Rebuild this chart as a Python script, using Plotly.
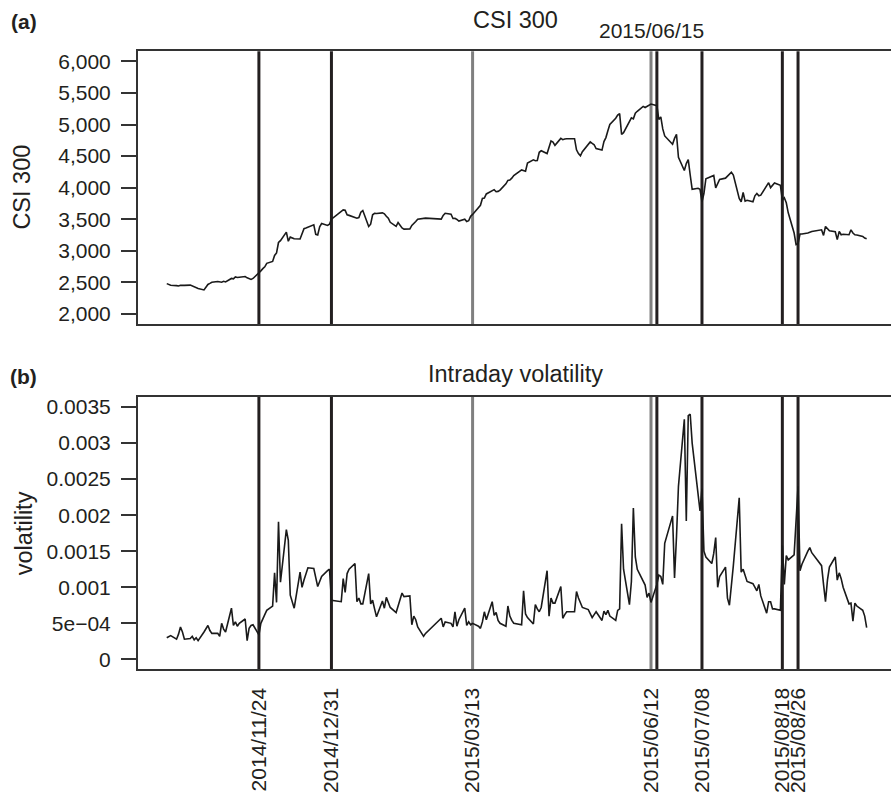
import pandas as pd
import plotly.graph_objects as go

W, H = 891, 793
FONT = "Liberation Sans, Arial, Helvetica, sans-serif"
INK = "#231f20"
GRAY = "#808080"

# ---- trading calendar (Shanghai/Shenzhen), 2014-10-08 .. 2015-09-30 ----
start_date = "2014-10-08"
end_date = "2015-09-30"
holidays = ["2015-01-01", "2015-01-02", "2015-02-18", "2015-02-19", "2015-02-20",
            "2015-02-23", "2015-02-24", "2015-04-06", "2015-05-01", "2015-06-22",
            "2015-09-03", "2015-09-04"]

# ---- CSI 300 close ----
csi300 = [
    # Oct 2014
    2478, 2470, 2452, 2446, 2440, 2452, 2445, 2450, 2455, 2440, 2428, 2410, 2400, 2378, 2420, 2465, 2482, 2500,
    # Nov 2014
    2512, 2508, 2500, 2515, 2505, 2560, 2555, 2585, 2575, 2580, 2590, 2570, 2560, 2545, 2560, 2640, 2680, 2715, 2745, 2800,
    # Dec 2014
    2830, 2925, 2965, 3130, 3160, 3295, 3150, 3215, 3200, 3190, 3185, 3280, 3350, 3360, 3370, 3410, 3260, 3250, 3380, 3430, 3400, 3420, 3500,
    # Jan 2015
    3630, 3646, 3640, 3570, 3560, 3520, 3515, 3525, 3610, 3636, 3385, 3420, 3570, 3593, 3590, 3600, 3585, 3545, 3515, 3450,
    # Feb 2015
    3385, 3447, 3400, 3360, 3342, 3345, 3400, 3440, 3463, 3500, 3510, 3516, 3500, 3560, 3593,
    # Mar 2015
    3578, 3510, 3512, 3495, 3470, 3500, 3463, 3475, 3545, 3575, 3671, 3720, 3828, 3835, 3900, 3958, 3968, 3935, 3940, 3960, 4060, 4114,
    # Apr 2015
    4120, 4150, 4190, 4280, 4271, 4260, 4390, 4440, 4427, 4430, 4560, 4584, 4540, 4640, 4740, 4720, 4670, 4780, 4760, 4770, 4775,
    # May 2015
    4775, 4600, 4540, 4505, 4570, 4690, 4725, 4700, 4680, 4620, 4595, 4730, 4793, 4900, 5002, 5100, 5150, 5173, 4845, 4870,
    # Jun 2015
    5060, 5106, 5090, 5180, 5210, 5288, 5270, 5290, 5310, 5325, 5300, 5080, 5120, 4930, 4819, 4688, 4780, 4845, 4480, 4271, 4380,
    # Jul 2015
    4443, 4200, 3974, 3990, 3974, 3776, 3906, 4141, 4180, 4193, 3995, 4060, 4130, 4150, 4182, 4200, 4245, 4200, 3830, 3776, 3922, 3786, 3800,
    # Aug 2015
    3776, 3870, 3906, 3870, 3880, 4040, 4078, 4000, 4036, 4073, 4036, 3802, 3839, 3760, 3600, 3280, 3096, 3110, 3264, 3264, 3280,
    # Sep 2015
    3290, 3305, 3331, 3243, 3384, 3350, 3316, 3300, 3175, 3305, 3253, 3260, 3253, 3331, 3280, 3253, 3250, 3227, 3200, 3190,
]

# ---- intraday volatility ----
volatility = [
    # Oct 2014
    0.00030, 0.00031, 0.00033, 0.00028, 0.00035, 0.00045, 0.00038, 0.00028, 0.00029, 0.00032, 0.00027, 0.00030, 0.00026, 0.00038, 0.00042, 0.00047, 0.00040, 0.00036,
    # Nov 2014
    0.00036, 0.00032, 0.00050, 0.00042, 0.00038, 0.00071, 0.00047, 0.00052, 0.00046, 0.00050, 0.00056, 0.00026, 0.00043, 0.00047, 0.00048, 0.00034, 0.00050, 0.00055, 0.00062, 0.00068,
    # Dec 2014
    0.00074, 0.00120, 0.00079, 0.00191, 0.00107, 0.00180, 0.00165, 0.00089, 0.00080, 0.00071, 0.00121, 0.00100, 0.00110, 0.00120, 0.00127, 0.00126, 0.00112, 0.00101, 0.00108, 0.00115, 0.00123, 0.00125, 0.00082,
    # Jan 2015
    0.00080, 0.00112, 0.00093, 0.00119, 0.00125, 0.00133, 0.00080, 0.00085, 0.00077, 0.00077, 0.00119, 0.00077, 0.00082, 0.00070, 0.00059, 0.00081, 0.00071, 0.00086, 0.00080, 0.00072,
    # Feb 2015
    0.00065, 0.00075, 0.00085, 0.00092, 0.00087, 0.00088, 0.00048, 0.00060, 0.00055, 0.00045, 0.00032, 0.00036, 0.00057, 0.00045, 0.00052,
    # Mar 2015
    0.00050, 0.00045, 0.00066, 0.00046, 0.00055, 0.00071, 0.00047, 0.00052, 0.00048, 0.00050, 0.00046, 0.00043, 0.00052, 0.00066, 0.00055, 0.00080, 0.00061, 0.00065, 0.00054, 0.00050, 0.00046, 0.00074,
    # Apr 2015
    0.00060, 0.00054, 0.00050, 0.00048, 0.00095, 0.00063, 0.00058, 0.00049, 0.00076, 0.00070, 0.00066, 0.00072, 0.00123, 0.00060, 0.00085, 0.00078, 0.00078, 0.00101, 0.00057, 0.00062, 0.00066,
    # May 2015
    0.00066, 0.00094, 0.00085, 0.00078, 0.00072, 0.00069, 0.00064, 0.00058, 0.00062, 0.00066, 0.00054, 0.00067, 0.00062, 0.00068, 0.00060, 0.00054, 0.00068, 0.00070, 0.00188, 0.00125,
    # Jun 2015
    0.00076, 0.00108, 0.00210, 0.00142, 0.00125, 0.00110, 0.00103, 0.00086, 0.00092, 0.00079, 0.00104, 0.00117, 0.00115, 0.00104, 0.00161, 0.00199, 0.00113, 0.00170, 0.00240, 0.00333, 0.00192,
    # Jul 2015
    0.00338, 0.00340, 0.00300, 0.00230, 0.00206, 0.00237, 0.00150, 0.00142, 0.00133, 0.00147, 0.00169, 0.00100, 0.00115, 0.00128, 0.00085, 0.00075, 0.00100, 0.00130, 0.00224, 0.00121, 0.00125, 0.00115, 0.00108,
    # Aug 2015
    0.00105, 0.00100, 0.00095, 0.00104, 0.00088, 0.00064, 0.00080, 0.00080, 0.00070, 0.00070, 0.00068, 0.00158, 0.00104, 0.00144, 0.00138, 0.00145, 0.00200, 0.00240, 0.00123, 0.00132, 0.00150,
    # Sep 2015
    0.00155, 0.00148, 0.00130, 0.00104, 0.00080, 0.00110, 0.00128, 0.00142, 0.00110, 0.00120, 0.00112, 0.00100, 0.00077, 0.00078, 0.00053, 0.00078, 0.00074, 0.00068, 0.00060, 0.00044,
]

# ---- event dates ----
black_dates = ["2014-11-24", "2014-12-31", "2015-06-15", "2015-07-08", "2015-08-18", "2015-08-26"]
gray_dates = ["2015-03-13", "2015-06-12"]
bottom_tick_dates = ["2014-11-24", "2014-12-31", "2015-03-13", "2015-06-12",
                     "2015-07-08", "2015-08-18", "2015-08-26"]
top_label_date = "2015-06-15"

# y-axis ticks
csi_ticks = [2000, 2500, 3000, 3500, 4000, 4500, 5000, 5500, 6000]
vol_ticks = [0, 0.0005, 0.001, 0.0015, 0.002, 0.0025, 0.003, 0.0035]
vol_ticktext = ["0", "5e\u221204", "0.001", "0.0015", "0.002", "0.0025", "0.003", "0.0035"]

dates = pd.bdate_range(start_date, end_date)
dates = dates[~dates.isin(pd.to_datetime(holidays))]
assert len(dates) == len(csi300) == len(volatility), (len(dates), len(csi300), len(volatility))


def px(x):
    return x / W


def py(y):
    return 1 - y / H


XRANGE = ["2014-09-23 08:00", "2015-10-12 10:00"]
XDOM = [px(138), 1.0]
YDOM_A = [py(327), py(51)]
YDOM_B = [py(677), py(401)]

fig = go.Figure()
fig.add_trace(go.Scatter(x=dates, y=csi300, mode="lines", xaxis="x", yaxis="y",
                         line=dict(color="#1a1a1a", width=1.6), showlegend=False,
                         hoverinfo="skip"))
fig.add_trace(go.Scatter(x=dates, y=volatility, mode="lines", xaxis="x2", yaxis="y2",
                         line=dict(color="#1a1a1a", width=1.6), showlegend=False,
                         hoverinfo="skip"))

shapes = []
for yref in ["y domain", "y2 domain"]:
    xref = "x" if yref == "y domain" else "x2"
    for d in gray_dates:
        shapes.append(dict(type="line", xref=xref, yref=yref, x0=d, x1=d, y0=0, y1=1,
                           line=dict(color=GRAY, width=3), layer="below"))
    for d in black_dates:
        shapes.append(dict(type="line", xref=xref, yref=yref, x0=d, x1=d, y0=0, y1=1,
                           line=dict(color=INK, width=3), layer="below"))

axis_common = dict(showgrid=False, zeroline=False, showline=True, linecolor="#333333",
                   linewidth=2)
tickfont = dict(family=FONT, size=21, color=INK)

fig.update_layout(
    width=W, height=H,
    margin=dict(l=0, r=0, t=0, b=0),
    paper_bgcolor="white", plot_bgcolor="white",
    shapes=shapes,
    xaxis=dict(domain=XDOM, anchor="y", type="date", range=XRANGE, mirror=True,
               showticklabels=False, ticks="", **axis_common),
    xaxis2=dict(domain=XDOM, anchor="y2", type="date", range=XRANGE, mirror=True,
                tickmode="array", tickvals=bottom_tick_dates,
                ticktext=[d.replace("-", "/") for d in bottom_tick_dates],
                tickangle=-90, ticks="", ticklabelstandoff=8, tickfont=tickfont,
                **axis_common),
    yaxis=dict(domain=YDOM_A, anchor="x", range=[1840, 6160], tickmode="array",
               tickvals=csi_ticks, tickformat=",d", ticks="outside", ticklen=15,
               tickwidth=2, tickcolor="#333333", tickfont=tickfont,
               ticklabelstandoff=6, **axis_common),
    yaxis2=dict(domain=YDOM_B, anchor="x2", range=[-0.00014, 0.00364], tickmode="array",
                tickvals=vol_ticks, ticktext=vol_ticktext, ticks="outside", ticklen=15,
                tickwidth=2, tickcolor="#333333", tickfont=tickfont,
                ticklabelstandoff=6, **axis_common),
)

ann = []
ann.append(dict(text="<b>(a)</b>", x=px(9), y=py(21), xref="paper", yref="paper",
                xanchor="left", yanchor="middle", showarrow=False,
                font=dict(family=FONT, size=21, color=INK)))
ann.append(dict(text="<b>(b)</b>", x=px(8), y=py(380), xref="paper", yref="paper",
                xanchor="left", yanchor="middle", showarrow=False,
                font=dict(family=FONT, size=21, color=INK)))
ann.append(dict(text="CSI 300", x=px(515), y=py(19), xref="paper", yref="paper",
                xanchor="center", yanchor="middle", showarrow=False,
                font=dict(family=FONT, size=23.5, color=INK)))
ann.append(dict(text="Intraday volatility", x=px(515), y=py(378), xref="paper", yref="paper",
                xanchor="center", yanchor="middle", showarrow=False,
                font=dict(family=FONT, size=23.5, color=INK)))
ann.append(dict(text=top_label_date.replace("-", "/"), x=top_label_date, xref="x",
                y=py(30), yref="paper", xshift=-5,
                xanchor="center", yanchor="middle", showarrow=False,
                font=dict(family=FONT, size=21, color=INK)))
ann.append(dict(text="CSI 300", x=px(22), y=py(189), xref="paper", yref="paper",
                xanchor="center", yanchor="middle", textangle=-90, showarrow=False,
                font=dict(family=FONT, size=23.5, color=INK)))
ann.append(dict(text="volatility", x=px(24), y=py(539), xref="paper", yref="paper",
                xanchor="center", yanchor="middle", textangle=-90, showarrow=False,
                font=dict(family=FONT, size=23.5, color=INK)))
fig.update_layout(annotations=ann)

fig.write_html("out.html")
